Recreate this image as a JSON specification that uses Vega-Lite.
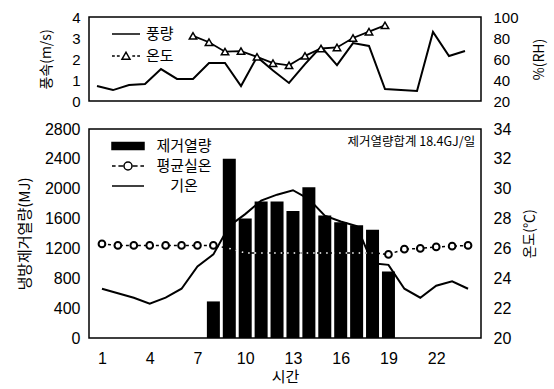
{
  "$schema": "https://vega.github.io/schema/vega-lite/v6.json",
  "padding": {"left": 16, "top": 9, "right": 4, "bottom": 2},
  "bounds": "flush",
  "spacing": 28,
  "config": {
    "view": {"stroke": "black", "strokeWidth": 1.5},
    "axis": {"grid": false, "domain": false, "ticks": false, "labelFont": "Liberation Sans", "labelColor": "black", "titleFont": "Noto Sans CJK KR", "titleFontWeight": "normal", "titleColor": "black", "format": "d"},
    "legend": {"labelFont": "Noto Sans CJK KR", "labelColor": "black", "padding": 0}
  },
  "datasets": {
    "hourly": [
      {"hour": 1, "wind": 0.71, "rh": null, "heat": null, "room": 26.3, "outdoor": 23.3},
      {"hour": 2, "wind": 0.52, "rh": null, "heat": null, "room": 26.2, "outdoor": 23.0},
      {"hour": 3, "wind": 0.76, "rh": null, "heat": null, "room": 26.2, "outdoor": 22.7},
      {"hour": 4, "wind": 0.81, "rh": null, "heat": null, "room": 26.2, "outdoor": 22.3},
      {"hour": 5, "wind": 1.52, "rh": null, "heat": null, "room": 26.2, "outdoor": 22.7},
      {"hour": 6, "wind": 1.05, "rh": null, "heat": null, "room": 26.2, "outdoor": 23.3},
      {"hour": 7, "wind": 1.05, "rh": 82, "heat": null, "room": 26.2, "outdoor": 24.8},
      {"hour": 8, "wind": 1.81, "rh": 76, "heat": 490, "room": 26.2, "outdoor": 25.6},
      {"hour": 9, "wind": 1.81, "rh": 67, "heat": 2400, "room": 26.0, "outdoor": 27.5},
      {"hour": 10, "wind": 0.71, "rh": 67.5, "heat": 1600, "room": 25.7, "outdoor": 28.3},
      {"hour": 11, "wind": 2.1, "rh": 62, "heat": 1830, "room": 25.7, "outdoor": 29.2},
      {"hour": 12, "wind": 1.45, "rh": 56, "heat": 1830, "room": 25.7, "outdoor": 29.6},
      {"hour": 13, "wind": 0.86, "rh": 54, "heat": 1700, "room": 25.7, "outdoor": 29.9},
      {"hour": 14, "wind": 1.76, "rh": 63, "heat": 2020, "room": 25.7, "outdoor": 29.3},
      {"hour": 15, "wind": 2.58, "rh": 70, "heat": 1640, "room": 25.7, "outdoor": 28.2},
      {"hour": 16, "wind": 1.71, "rh": 71, "heat": 1550, "room": 25.7, "outdoor": 27.8},
      {"hour": 17, "wind": 2.76, "rh": 80, "heat": 1510, "room": 25.7, "outdoor": 27.5},
      {"hour": 18, "wind": 2.62, "rh": 86, "heat": 1450, "room": 25.7, "outdoor": 25.0},
      {"hour": 19, "wind": 0.57, "rh": 92, "heat": 890, "room": 25.6, "outdoor": 24.9},
      {"hour": 20, "wind": 0.52, "rh": null, "heat": null, "room": 25.95, "outdoor": 23.3},
      {"hour": 21, "wind": 0.48, "rh": null, "heat": null, "room": 26.0, "outdoor": 22.7},
      {"hour": 22, "wind": 3.29, "rh": null, "heat": null, "room": 26.1, "outdoor": 23.5},
      {"hour": 23, "wind": 2.14, "rh": null, "heat": null, "room": 26.15, "outdoor": 23.8},
      {"hour": 24, "wind": 2.38, "rh": null, "heat": null, "room": 26.2, "outdoor": 23.3}
    ],
    "note": [
      {"label": "제거열량합계 18.4GJ/일", "hour": 24.45, "heat": 2710}
    ]
  },
  "data": {"name": "hourly"},
  "resolve": {"scale": {"x": "independent", "shape": "independent", "fill": "independent"}, "legend": {"shape": "independent", "fill": "independent"}},
  "vconcat": [
    {
      "width": 392,
      "height": 84,
      "encoding": {
        "x": {"field": "hour", "type": "quantitative", "scale": {"domain": [0.5, 25], "nice": false, "zero": false}, "axis": null}
      },
      "layer": [
        {
          "mark": {"type": "line", "color": "black", "strokeWidth": 2},
          "encoding": {
            "y": {"field": "wind", "type": "quantitative", "scale": {"domain": [0, 4], "nice": false}, "axis": {"orient": "left", "values": [0, 1, 2, 3, 4], "labelFontSize": 15, "labelPadding": 9, "title": "풍속(m/s)", "titleFontSize": 14, "titlePadding": 18}}
          }
        },
        {
          "mark": {"type": "line", "color": "black", "strokeWidth": 1.8},
          "encoding": {
            "y": {"field": "rh", "type": "quantitative", "scale": {"domain": [20, 100], "nice": false, "zero": false}, "axis": {"orient": "right", "values": [20, 40, 60, 80, 100], "labelFontSize": 15, "labelPadding": 12, "title": "%(RH)", "titleFontSize": 14, "titleAngle": 270, "titleBaseline": "top", "titlePadding": 14}}
          }
        },
        {
          "mark": {"type": "point", "shape": "triangle-up", "filled": true, "fill": "white", "stroke": "black", "strokeWidth": 1.5, "size": 55, "opacity": 1},
          "encoding": {
            "y": {"field": "rh", "type": "quantitative", "scale": {"domain": [20, 100], "nice": false, "zero": false}, "axis": null}
          }
        },
        {
          "transform": [{"filter": "false"}],
          "mark": {"type": "point", "filled": true, "stroke": "black", "strokeWidth": 1.5, "opacity": 1},
          "encoding": {
            "shape": {"field": "series1", "type": "nominal", "scale": {"domain": ["풍량", "온도"], "range": ["M-2,0H2", "M-2,0H-1.6M-1.3,0H-0.9M0.9,0H1.3M1.6,0H2M-0.57,0.45L0,-0.55L0.57,0.45Z"]}, "legend": {"title": null, "orient": "top-left", "offset": 9, "symbolOffset": 20, "symbolSize": 196, "labelFontSize": 15, "rowPadding": 6, "labelOffset": 12, "encode": {"symbols": {"update": {"stroke": {"value": "black"}, "strokeWidth": {"value": 1.6}, "opacity": {"value": 1}}}}}},
            "fill": {"field": "series1", "type": "nominal", "scale": {"domain": ["풍량", "온도"], "range": ["black", "white"]}, "legend": {"title": null, "orient": "top-left", "offset": 9, "symbolOffset": 20, "symbolSize": 196, "labelFontSize": 15, "rowPadding": 6, "labelOffset": 12, "encode": {"symbols": {"update": {"stroke": {"value": "black"}, "strokeWidth": {"value": 1.6}, "opacity": {"value": 1}}}}}}
          }
        }
      ],
      "resolve": {"scale": {"y": "independent"}}
    },
    {
      "width": 392,
      "height": 209,
      "encoding": {
        "x": {"field": "hour", "type": "quantitative", "scale": {"domain": [0.5, 24.5], "nice": false, "zero": false}, "axis": {"values": [1, 4, 7, 10, 13, 16, 19, 22], "labelFontSize": 16, "labelPadding": 12, "title": "시간", "titleFontSize": 15, "titlePadding": 3}}
      },
      "layer": [
        {
          "mark": {"type": "line", "color": "black", "strokeWidth": 2},
          "encoding": {
            "y": {"field": "outdoor", "type": "quantitative", "scale": {"domain": [20, 34], "nice": false, "zero": false}, "axis": null}
          }
        },
        {
          "mark": {"type": "line", "color": "black", "strokeWidth": 1.5, "strokeDash": [3, 3]},
          "encoding": {
            "y": {"field": "room", "type": "quantitative", "scale": {"domain": [20, 34], "nice": false, "zero": false}, "axis": {"orient": "right", "values": [20, 22, 24, 26, 28, 30, 32, 34], "labelFontSize": 16, "labelPadding": 12, "title": "온도(℃)", "titleFontSize": 14, "titleAngle": 270, "titleBaseline": "top", "titlePadding": 12}}
          }
        },
        {
          "mark": {"type": "point", "shape": "circle", "filled": true, "fill": "white", "stroke": "black", "strokeWidth": 2, "size": 45, "opacity": 1},
          "encoding": {
            "y": {"field": "room", "type": "quantitative", "scale": {"domain": [20, 34], "nice": false, "zero": false}, "axis": null}
          }
        },
        {
          "mark": {"type": "bar", "color": "black", "size": 13},
          "encoding": {
            "y": {"field": "heat", "type": "quantitative", "scale": {"domain": [0, 2800], "nice": false}, "axis": {"orient": "left", "values": [0, 400, 800, 1200, 1600, 2000, 2400, 2800], "labelFontSize": 16, "labelPadding": 9, "title": "냉방제거열량(MJ)", "titleFontSize": 15, "titlePadding": 12}}
          }
        },
        {
          "transform": [{"filter": "datum.hour >= 9 && datum.hour <= 18"}],
          "mark": {"type": "line", "color": "white", "strokeWidth": 1.5, "strokeDash": [1.5, 5]},
          "encoding": {
            "y": {"field": "room", "type": "quantitative", "scale": {"domain": [20, 34], "nice": false, "zero": false}, "axis": null}
          }
        },
        {
          "data": {"name": "note"},
          "mark": {"type": "text", "font": "Noto Sans CJK KR", "fontSize": 12.5, "fontWeight": "normal", "align": "right", "baseline": "top", "color": "black"},
          "encoding": {
            "x": {"field": "hour", "type": "quantitative"},
            "y": {"field": "heat", "type": "quantitative", "scale": {"domain": [0, 2800], "nice": false}, "axis": null},
            "text": {"field": "label", "type": "nominal"}
          }
        },
        {
          "transform": [{"filter": "false"}],
          "mark": {"type": "point", "filled": true, "stroke": "black", "strokeWidth": 1.5, "opacity": 1},
          "encoding": {
            "shape": {"field": "series2", "type": "nominal", "scale": {"domain": ["제거열량", "평균실온", "기온"], "range": ["M-2,-0.44H2V0.44H-2Z", "M-2,0H-1.55M-1.2,0H-0.6M0.6,0H1.2M1.55,0H2M0.5,0A0.5,0.5,0,1,1,-0.5,0A0.5,0.5,0,1,1,0.5,0Z", "M-2,0H2"]}, "legend": {"title": null, "orient": "top-left", "offset": 8, "symbolOffset": 22, "symbolSize": 256, "labelFontSize": 15, "rowPadding": 3, "labelOffset": 47, "labelAlign": "center", "encode": {"symbols": {"update": {"stroke": {"value": "black"}, "strokeWidth": {"value": 1.8}, "opacity": {"value": 1}}}}}},
            "fill": {"field": "series2", "type": "nominal", "scale": {"domain": ["제거열량", "평균실온", "기온"], "range": ["black", "white", "black"]}, "legend": {"title": null, "orient": "top-left", "offset": 8, "symbolOffset": 22, "symbolSize": 256, "labelFontSize": 15, "rowPadding": 3, "labelOffset": 47, "labelAlign": "center", "encode": {"symbols": {"update": {"stroke": {"value": "black"}, "strokeWidth": {"value": 1.8}, "opacity": {"value": 1}}}}}}
          }
        }
      ],
      "resolve": {"scale": {"y": "independent"}}
    }
  ]
}
